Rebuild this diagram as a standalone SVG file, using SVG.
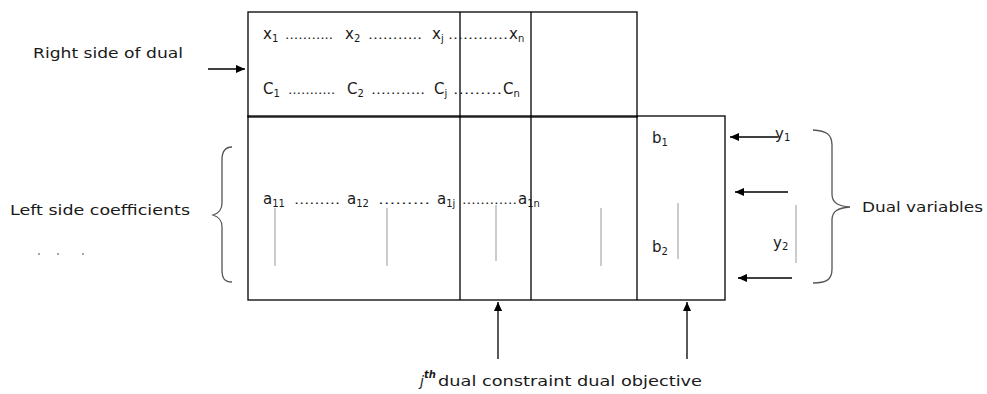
<svg xmlns="http://www.w3.org/2000/svg" width="987" height="394" viewBox="0 0 987 394">
<style>
text{font-family:"DejaVu Sans",Verdana,sans-serif;font-size:14px;fill:#1a1a1a}
.v{font-size:15px}
.s{font-size:10px}
.d{font-size:12px}
.box{fill:none;stroke:#000;stroke-width:1.3}
.g{stroke:#999;stroke-width:1}
.ln{stroke:#000;stroke-width:1.3;fill:none}
.br{stroke:#555;stroke-width:1.3;fill:none}
</style>
<defs>
<marker id="ah" viewBox="0 0 10 10" refX="10" refY="5" markerWidth="9" markerHeight="9" markerUnits="userSpaceOnUse" orient="auto">
<path d="M0,0.5 L10,5 L0,9.5 z" fill="#000"/>
</marker>
</defs>
<rect width="987" height="394" fill="#fff"/>
<g id="top-box">
<rect class="box" x="248" y="12" width="389" height="105"/>
<line class="box" x1="460" y1="12" x2="460" y2="117"/>
<line class="box" x1="531" y1="12" x2="531" y2="117"/>
<text class="v" x="263" y="39">x<tspan class="s" dy="3">1</tspan></text>
<text class="d" x="285" y="39" textLength="48" lengthAdjust="spacingAndGlyphs">………..</text>
<text class="v" x="345" y="39">x<tspan class="s" dy="3">2</tspan></text>
<text class="d" x="368" y="39" textLength="54" lengthAdjust="spacingAndGlyphs">………..</text>
<text class="v" x="432" y="39">x<tspan class="s" dy="3">j</tspan></text>
<text class="d" x="448" y="39" textLength="60" lengthAdjust="spacingAndGlyphs">…………</text>
<text class="v" x="509" y="39">x<tspan class="s" dy="3">n</tspan></text>
<text class="v" x="263" y="94">C<tspan class="s" dy="3">1</tspan></text>
<text class="d" x="288" y="94" textLength="47" lengthAdjust="spacingAndGlyphs">………..</text>
<text class="v" x="347" y="94">C<tspan class="s" dy="3">2</tspan></text>
<text class="d" x="371" y="94" textLength="54" lengthAdjust="spacingAndGlyphs">………..</text>
<text class="v" x="434" y="94">C<tspan class="s" dy="3">j</tspan></text>
<text class="d" x="453" y="94" textLength="49" lengthAdjust="spacingAndGlyphs">………</text>
<text class="v" x="503" y="94">C<tspan class="s" dy="3">n</tspan></text>
</g>
<g id="bottom-box">
<rect class="box" x="248" y="116" width="477" height="184"/>
<line class="box" x1="460" y1="116" x2="460" y2="300"/>
<line class="box" x1="531" y1="116" x2="531" y2="300"/>
<line class="box" x1="637" y1="116" x2="637" y2="300"/>
<text class="v" x="263" y="204">a<tspan class="s" dy="3">11</tspan></text>
<text class="d" x="294" y="204" textLength="46" lengthAdjust="spacingAndGlyphs">………</text>
<text class="v" x="347" y="204">a<tspan class="s" dy="3">12</tspan></text>
<text class="d" x="378" y="204" textLength="52" lengthAdjust="spacingAndGlyphs">………</text>
<text class="v" x="437" y="204">a<tspan class="s" dy="3">1j</tspan></text>
<text class="d" x="462" y="204" textLength="55" lengthAdjust="spacingAndGlyphs">…………</text>
<text class="v" x="518" y="204">a<tspan class="s" dy="3">1n</tspan></text>
<line class="g" x1="275" y1="208" x2="275" y2="266"/>
<line class="g" x1="387" y1="208" x2="387" y2="266"/>
<line class="g" x1="496" y1="205" x2="496" y2="261"/>
<line class="g" x1="601" y1="208" x2="601" y2="266"/>
<line class="g" x1="678" y1="203" x2="678" y2="259"/>
<text class="v" x="652" y="143">b<tspan class="s" dy="3">1</tspan></text>
<text class="v" x="652" y="252">b<tspan class="s" dy="3">2</tspan></text>
</g>
<g id="labels">
<text x="33" y="58" textLength="150" lengthAdjust="spacingAndGlyphs">Right side of dual</text>
<text x="10" y="215" textLength="180" lengthAdjust="spacingAndGlyphs">Left side coefficients</text>
<circle cx="39" cy="254" r="0.8" fill="#333"/>
<circle cx="58" cy="254" r="0.8" fill="#333"/>
<circle cx="83" cy="254" r="0.8" fill="#333"/>
<text x="862" y="212" textLength="121" lengthAdjust="spacingAndGlyphs">Dual variables</text>
<text class="v" x="775" y="139">y<tspan class="s" dy="2">1</tspan></text>
<text class="v" x="773" y="248">y<tspan class="s" dy="2">2</tspan></text>
<line class="g" x1="796" y1="205" x2="796" y2="263"/>
<text x="420" y="386"><tspan font-style="italic">j</tspan><tspan class="s" font-style="italic" font-weight="bold" dy="-8">th</tspan></text>
<text x="438" y="386" textLength="264" lengthAdjust="spacingAndGlyphs">dual constraint dual objective</text>
</g>
<g id="connectors">
<line class="ln" x1="208" y1="69" x2="245" y2="69" marker-end="url(#ah)"/>
<line class="ln" x1="778" y1="137" x2="730" y2="137" marker-end="url(#ah)"/>
<line class="ln" x1="788" y1="192" x2="735" y2="192" marker-end="url(#ah)"/>
<line class="ln" x1="792" y1="278" x2="738" y2="278" marker-end="url(#ah)"/>
<line class="ln" x1="498" y1="359" x2="498" y2="302" marker-end="url(#ah)"/>
<line class="ln" x1="687" y1="359" x2="687" y2="302" marker-end="url(#ah)"/>
<path class="br" d="M232,147 C225,147 222,151 222,160 L222,203 C222,210 219,213 213,215 C219,217 222,220 222,227 L222,270 C222,279 225,282 232,282"/>
<path class="br" d="M813,130 C826,131 832,134 832,145 L832,194 C832,203 838,206 850,207 C838,208 832,211 832,220 L832,269 C832,280 826,283 813,283"/>
</g>
</svg>
